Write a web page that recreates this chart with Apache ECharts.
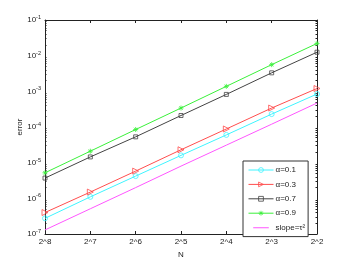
<!DOCTYPE html>
<html><head><meta charset="utf-8">
<script src="https://cdn.jsdelivr.net/npm/echarts@6/dist/echarts.min.js"></script>
<style>html,body{margin:0;padding:0;background:#fff}#c{width:350px;height:264px}</style>
</head><body><div id="c"></div>
<script>
var categories = ['2^8','2^7','2^6','2^5','2^4','2^3','2^2'];
var alpha01 = [2.75e-7, 1.1e-6, 4.2e-6, 1.6e-5, 6.0e-5, 2.3e-4, 8.4e-4];
var alpha03 = [4.0e-7, 1.5e-6, 5.8e-6, 2.3e-5, 8.8e-5, 3.4e-4, 1.2e-3];
var alpha07 = [3.7e-6, 1.45e-5, 5.3e-5, 2.1e-4, 8.2e-4, 3.3e-3, 1.25e-2];
var alpha09 = [5.2e-6, 2.1e-5, 8.5e-5, 3.4e-4, 1.38e-3, 5.6e-3, 2.2e-2];
var slope = [1.3e-7, 5.1e-7, 2.0e-6, 8.0e-6, 3.1e-5, 1.2e-4, 4.7e-4];
var seriesNames = ['α=0.1','α=0.3','α=0.7','α=0.9','slope=τ²'];

var chart = echarts.init(document.getElementById('c'));
var font = 'Liberation Sans, Arial, sans-serif';
function ylab(v){
  var e = Math.round(Math.log10(v));
  return '{b|10}{s|' + e + '}';
}
var star = 'path://M5,0L5,10M0,5L10,5M1.5,1.5L8.5,8.5M8.5,1.5L1.5,8.5';
var lineIcon = 'path://M0,0L0.01,0L0.01,0.01L0,0.01ZM0,4.3L26,4.3L26,5.9L0,5.9ZM25.99,9.99L26,9.99L26,10L25.99,10Z';
function mk(name, data, color, symbol, size, rot){
  return {
    name: name, type: 'line', data: data, symbol: symbol, symbolSize: size,
    symbolRotate: rot || 0, showAllSymbol: true,
    lineStyle: {color: color, width: 1},
    itemStyle: {color: 'rgba(255,255,255,0)', borderColor: color, borderWidth: 0.8},
    emphasis: {disabled: true}, animation: false
  };
}
var s4 = mk(seriesNames[3], alpha09, '#3af03a', star, 5);
s4.itemStyle.color = '#3af03a';
var s5 = mk(seriesNames[4], slope, '#ff55ff', 'none', 0);
s5.itemStyle.color = '#ff55ff';
var option = {
  animation: false,
  grid: {left: 45, right: 33, top: 20, bottom: 30},
  xAxis: [{
    type: 'category', data: categories, boundaryGap: false,
    name: 'N', nameLocation: 'middle', nameGap: 13,
    nameTextStyle: {fontSize: 8, color: '#222', fontFamily: font},
    axisLine: {lineStyle: {color: '#222', width: 1}},
    axisTick: {inside: true, length: 3, lineStyle: {color: '#222'}},
    axisLabel: {fontSize: 8, color: '#222', fontFamily: font, margin: 4},
    splitLine: {show: false}
  },{
    type: 'category', data: categories, boundaryGap: false, position: 'top',
    axisLine: {lineStyle: {color: '#222', width: 1}},
    axisTick: {inside: true, length: 3, lineStyle: {color: '#222'}},
    axisLabel: {show: false}, splitLine: {show: false}
  }],
  yAxis: [{
    type: 'log', logBase: 10, min: 1e-7, max: 1e-1,
    name: 'error', nameLocation: 'middle', nameGap: 21, nameRotate: 90,
    nameMoveOverlap: false,
    nameTextStyle: {fontSize: 8, color: '#222', fontFamily: font},
    axisLine: {show: true, lineStyle: {color: '#222', width: 1}},
    axisTick: {inside: true, length: 3, lineStyle: {color: '#222'}},
    minorTick: {show: true, splitNumber: 9, length: 1.5, lineStyle: {color: '#222'}},
    axisLabel: {formatter: ylab, margin: 4, color: '#222',
      rich: {b: {fontSize: 8, fontFamily: font, color: '#222'},
             s: {fontSize: 5.5, fontFamily: font, color: '#222', verticalAlign: 'top', padding: [0,0,5,0]}}},
    splitLine: {show: false}
  },{
    type: 'log', logBase: 10, min: 1e-7, max: 1e-1, position: 'right',
    axisLine: {show: true, lineStyle: {color: '#222', width: 1}},
    axisTick: {inside: true, length: 3, lineStyle: {color: '#222'}},
    minorTick: {show: true, splitNumber: 9, length: 1.5, lineStyle: {color: '#222'}},
    axisLabel: {show: false}, splitLine: {show: false}
  }],
  legend: {
    orient: 'vertical', left: 243, top: 161,
    backgroundColor: '#fff', borderColor: '#333', borderWidth: 1, borderRadius: 0,
    padding: [5, 3, 5, 5], itemGap: 6.4, itemWidth: 25, itemHeight: 6,
    itemStyle: {borderWidth: 0.8}, lineStyle: {width: 1},
    textStyle: {fontSize: 8, color: '#222', fontFamily: font, padding: [0,0,0,-3]},
    data: seriesNames.map(function(n, i){
      return i === 4 ? {name: n, icon: lineIcon, itemStyle: {color: '#ff55ff', borderWidth: 0}} : {name: n};
    })
  },
  series: [
    mk(seriesNames[0], alpha01, '#3ff4ff', 'circle', 5),
    mk(seriesNames[1], alpha03, '#ff4d4d', 'triangle', 6, -90),
    mk(seriesNames[2], alpha07, '#444444', 'rect', 4),
    s4, s5
  ]
};
chart.setOption(option);
</script></body></html>
